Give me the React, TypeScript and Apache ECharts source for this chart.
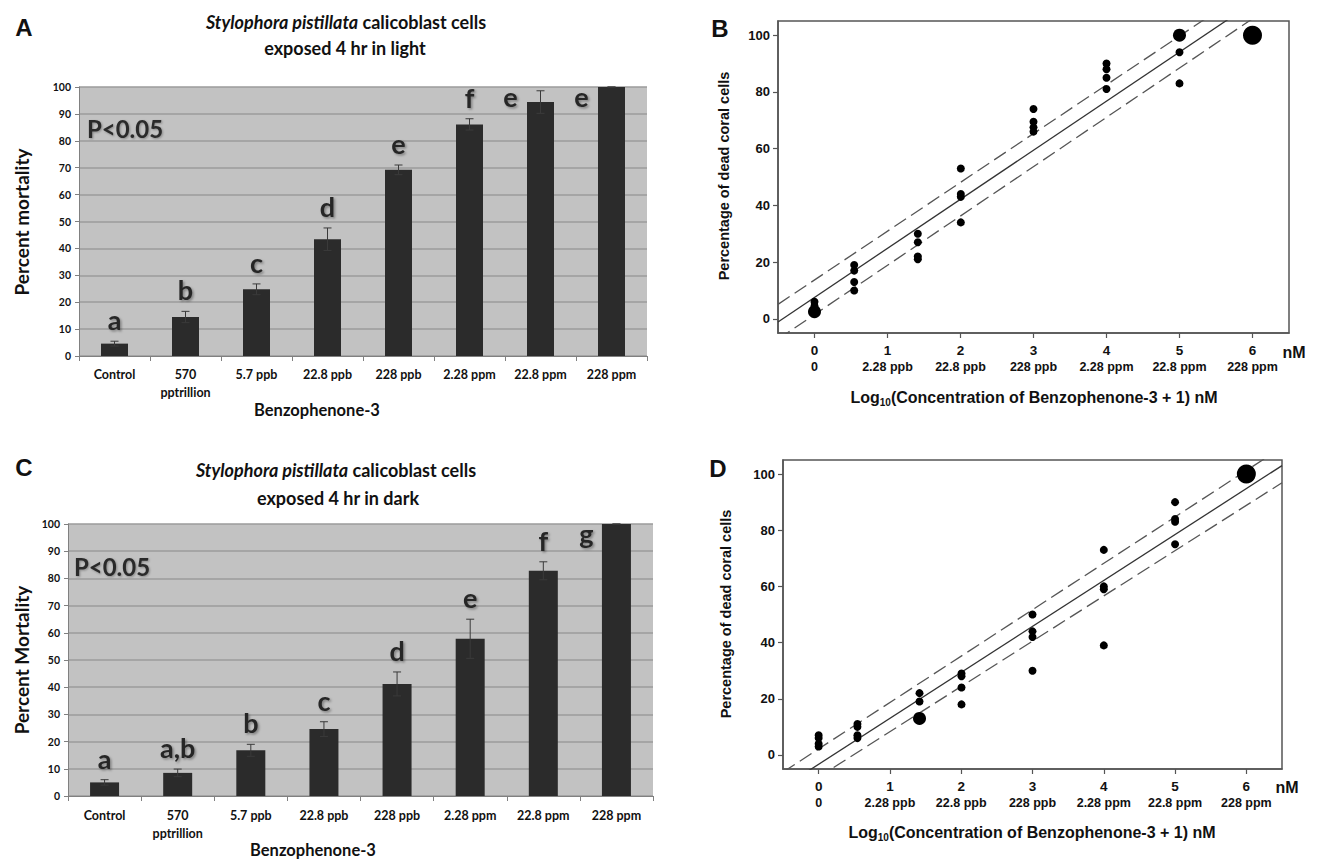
import React, { useEffect, useRef } from 'react';
import * as echarts from 'echarts';

// ---------------- Data ----------------
const doseCategories = ['Control', '570\npptrillion', '5.7 ppb', '22.8 ppb', '228 ppb', '2.28 ppm', '22.8 ppm', '228 ppm'];

const lightMortality = [4.6, 14.5, 24.8, 43.4, 69.2, 86.1, 94.4, 100];
const lightError = [0.9, 2.1, 2.0, 4.2, 1.8, 2.1, 4.2, 0];
const lightLetters = ['a', 'b', 'c', 'd', 'e', 'f', 'e', 'e'];

const darkMortality = [5.0, 8.5, 16.8, 24.6, 41.2, 57.8, 82.8, 100];
const darkError = [1.0, 1.4, 2.2, 2.7, 4.4, 7.2, 3.3, 0];
const darkLetters = ['a', 'a,b', 'b', 'c', 'd', 'e', 'f', 'g'];

const logTicks = [0, 1, 2, 3, 4, 5, 6];
const concTickLabels = ['0', '2.28 ppb', '22.8 ppb', '228 ppb', '2.28 ppm', '22.8 ppm', '228 ppm'];
const deadTicks = [0, 20, 40, 60, 80, 100];

// [log10(concentration + 1) nM, % dead coral cells, replicates overlapping at the point]
const lightPoints = [
  [0, 6, 1], [0, 4.5, 1], [0, 2.5, 2],
  [0.544, 19, 1], [0.544, 17, 1], [0.544, 13, 1], [0.544, 10, 1],
  [1.415, 30, 1], [1.415, 27, 1], [1.415, 22, 1], [1.415, 21, 1],
  [2.004, 53, 1], [2.004, 44, 1], [2.004, 43, 1], [2.004, 34, 1],
  [3, 74, 1], [3, 69.5, 1], [3, 67.5, 1], [3, 66, 1],
  [4, 90, 1], [4, 88, 1], [4, 85, 1], [4, 81, 1],
  [5, 100, 2], [5, 94, 1], [5, 83, 1],
  [6, 100, 4],
];
const lightFit = [[-0.5, -1.1], [6.5, 120]];
const lightUpper = [[-0.5, 5.1], [6.5, 125.5]];
const lightLower = [[-0.5, -7.2], [6.5, 114.5]];

const darkPoints = [
  [0, 7, 1], [0, 6, 1], [0, 4, 1], [0, 3, 1],
  [0.544, 11, 1], [0.544, 10, 1], [0.544, 7, 1], [0.544, 6, 1],
  [1.415, 22, 1], [1.415, 19, 1], [1.415, 13, 2],
  [2.004, 29, 1], [2.004, 28, 1], [2.004, 24, 1], [2.004, 18, 1],
  [3, 50, 1], [3, 44, 1], [3, 42, 1], [3, 30, 1],
  [4, 73, 1], [4, 60, 1], [4, 59, 1], [4, 39, 1],
  [5, 90, 1], [5, 84, 1], [5, 83, 1], [5, 75, 1],
  [6, 100, 4],
];
const darkFit = [[-0.5, -11.5], [6.5, 103]];
const darkUpper = [[-0.5, -6.1], [6.5, 109.5]];
const darkLower = [[-0.5, -15.9], [6.5, 96.9]];

// ---------------- Styling ----------------
const CAL = 'Lato, "Open Sans", sans-serif';
const ARI = '"Liberation Sans", Arial, Helvetica, sans-serif';

function barAxes(gridIndex: number, margin: number) {
  const x = {
    type: 'category',
    gridIndex,
    data: doseCategories,
    axisLine: { show: true, lineStyle: { color: '#808080', width: 1 } },
    axisTick: { show: true, alignWithLabel: false, length: 5, lineStyle: { color: '#808080' } },
    axisLabel: { interval: 0, margin, color: '#111', fontFamily: CAL, fontWeight: 'bold', fontSize: 12.5, lineHeight: 18 },
    splitLine: { show: false },
  };
  const y = {
    type: 'value',
    gridIndex,
    min: 0,
    max: 100,
    interval: 10,
    axisLine: { show: true, lineStyle: { color: '#808080' } },
    axisTick: { show: true, length: 4, lineStyle: { color: '#808080' } },
    axisLabel: { color: '#111', fontFamily: CAL, fontWeight: 'bold', fontSize: 10.5, margin: 8 },
    splitLine: { show: true, lineStyle: { color: '#9b9b9b', width: 1.5 } },
  };
  return { x, y };
}

function scatterAxes(gridIndex: number) {
  const x = {
    type: 'value',
    gridIndex,
    min: -0.5,
    max: 6.5,
    axisLine: { show: true, onZero: false, lineStyle: { color: '#555', width: 1.5 } },
    axisTick: { show: true, length: 5, customValues: logTicks, lineStyle: { color: '#555', width: 1.2 } },
    axisLabel: {
      customValues: logTicks,
      margin: 9,
      formatter: (v: number) => `{t|${v}}\n{s|${concTickLabels[logTicks.indexOf(Math.round(v))]}}`,
      rich: {
        t: { fontFamily: ARI, fontWeight: 'bold', fontSize: 13.5, color: '#111', lineHeight: 16 },
        s: { fontFamily: ARI, fontWeight: 'bold', fontSize: 12.5, color: '#111', lineHeight: 18 },
      },
    },
    splitLine: { show: false },
  };
  const y = {
    type: 'value',
    gridIndex,
    min: -5,
    max: 105,
    axisLine: { show: true, onZero: false, lineStyle: { color: '#555', width: 1.5 } },
    axisTick: { show: true, length: 5, customValues: deadTicks, lineStyle: { color: '#555', width: 1.2 } },
    axisLabel: { customValues: deadTicks, color: '#111', fontFamily: ARI, fontWeight: 'bold', fontSize: 13, margin: 8 },
    splitLine: { show: false },
  };
  return { x, y };
}

function barSeries(axisIndex: number, values: number[], errors: number[], letters: string[], barWidth: number) {
  return [
    {
      type: 'bar',
      xAxisIndex: axisIndex,
      yAxisIndex: axisIndex,
      data: values,
      barWidth,
      itemStyle: { color: '#2b2b2b' },
      z: 2,
    },
    {
      type: 'custom',
      xAxisIndex: axisIndex,
      yAxisIndex: axisIndex,
      data: values.map((v, i) => [i, v, errors[i]]),
      z: 3,
      renderItem: (params: any, api: any) => {
        const i = api.value(0);
        const v = api.value(1);
        const e = api.value(2);
        const top = api.coord([i, v + e]);
        const bot = api.coord([i, v - e]);
        const cx = top[0];
        const w = 4;
        const st = { stroke: '#3a3a3a', lineWidth: 1 };
        return {
          type: 'group',
          children: [
            { type: 'line', shape: { x1: cx, y1: top[1], x2: cx, y2: bot[1] }, style: st },
            { type: 'line', shape: { x1: cx - w, y1: top[1], x2: cx + w, y2: top[1] }, style: st },
            { type: 'line', shape: { x1: cx - w, y1: bot[1], x2: cx + w, y2: bot[1] }, style: st },
          ],
        };
      },
    },
    {
      type: 'custom',
      xAxisIndex: axisIndex,
      yAxisIndex: axisIndex,
      data: values.map((v, i) => [i, v + errors[i]]),
      z: 4,
      renderItem: (params: any, api: any) => {
        const i = api.value(0);
        const top = api.value(1);
        const letter = letters[params.dataIndex];
        let [cx, cy] = api.coord([i, top]);
        let y = cy - 8;
        if (top > 92) {
          cx -= 30;
          y = api.coord([i, 92])[1] + 1;
        }
        return {
          type: 'text',
          style: {
            text: letter,
            x: cx,
            y,
            textAlign: 'center',
            align: 'center',
            textVerticalAlign: 'bottom',
            verticalAlign: 'bottom',
            font: `bold 27px ${CAL}`,
            fill: '#262626',
            textShadowColor: 'rgba(0,0,0,0.35)',
            textShadowBlur: 2,
            textShadowOffsetX: 1.5,
            textShadowOffsetY: 1.5,
          },
        };
      },
    },
  ];
}

function scatterSeries(axisIndex: number, points: number[][], fit: number[][], upper: number[][], lower: number[][]) {
  const line = (data: number[][], dashed: boolean) => ({
    type: 'line',
    xAxisIndex: axisIndex,
    yAxisIndex: axisIndex,
    data,
    showSymbol: false,
    symbol: 'none',
    clip: true,
    lineStyle: { color: dashed ? '#555' : '#333', width: 1.3, type: dashed ? [14, 6] : 'solid' },
    z: 2,
  });
  return [
    line(fit, false),
    line(upper, true),
    line(lower, true),
    {
      type: 'scatter',
      xAxisIndex: axisIndex,
      yAxisIndex: axisIndex,
      data: points,
      symbol: 'circle',
      symbolSize: (val: number[]) => (val[2] >= 4 ? 19 : val[2] >= 2 ? 13 : 8),
      itemStyle: { color: '#000', opacity: 1 },
      z: 3,
    },
  ];
}

function txt(x: number, y: number, text: string, font: string, extra: any = {}) {
  return {
    type: 'text',
    x,
    y,
    ...extra,
    style: {
      text,
      font,
      fill: '#111',
      textAlign: 'center',
      align: 'center',
      textVerticalAlign: 'middle',
      verticalAlign: 'middle',
      ...(extra.style || {}),
    },
  };
}

function titleText(x: number, y: number) {
  return {
    type: 'text',
    x,
    y,
    style: {
      text: '{i|Stylophora pistillata}{n| calicoblast cells}',
      textAlign: 'center',
      align: 'center',
      textVerticalAlign: 'middle',
      verticalAlign: 'middle',
      rich: {
        i: { fontFamily: CAL, fontWeight: 'bold', fontStyle: 'italic', fontSize: 18, fill: '#111', color: '#111' },
        n: { fontFamily: CAL, fontWeight: 'bold', fontSize: 18, fill: '#111', color: '#111' },
      },
    },
  };
}

function logName(x: number, y: number) {
  return {
    type: 'text',
    x,
    y,
    style: {
      text: '{m|Log}{sub|10}{m|(Concentration of Benzophenone-3 + 1) nM}',
      textAlign: 'center',
      align: 'center',
      textVerticalAlign: 'middle',
      verticalAlign: 'middle',
      rich: {
        m: { fontFamily: ARI, fontWeight: 'bold', fontSize: 16, lineHeight: 20, fill: '#111', color: '#111' },
        sub: { fontFamily: ARI, fontWeight: 'bold', fontSize: 10, lineHeight: 10, verticalAlign: 'bottom', fill: '#111', color: '#111' },
      },
    },
  };
}

const pShadow = {
  style: {
    fill: '#2a2a2a',
    textShadowColor: 'rgba(0,0,0,0.3)',
    textShadowBlur: 2,
    textShadowOffsetX: 1,
    textShadowOffsetY: 1,
  },
};

export default function App() {
  const ref = useRef<HTMLDivElement>(null);

  useEffect(() => {
    if (!ref.current) return;
    const chart = echarts.init(ref.current, undefined, { renderer: 'svg' });

    const aAxes = barAxes(0, 9);
    const bAxes = scatterAxes(1);
    const cAxes = barAxes(2, 10);
    const dAxes = scatterAxes(3);

    const option: any = {
      animation: false,
      backgroundColor: '#fff',
      grid: [
        { left: 79, top: 87, width: 568, height: 269, show: true, backgroundColor: '#c2c2c2', borderWidth: 0, containLabel: false },
        { left: 778, top: 21, width: 511, height: 312, show: true, backgroundColor: '#fff', borderColor: '#555', borderWidth: 1.5, containLabel: false },
        { left: 68, top: 524, width: 585, height: 272, show: true, backgroundColor: '#c2c2c2', borderWidth: 0, containLabel: false },
        { left: 783, top: 460, width: 499, height: 309, show: true, backgroundColor: '#fff', borderColor: '#555', borderWidth: 1.5, containLabel: false },
      ],
      xAxis: [aAxes.x, bAxes.x, cAxes.x, dAxes.x],
      yAxis: [aAxes.y, bAxes.y, cAxes.y, dAxes.y],
      series: [
        ...barSeries(0, lightMortality, lightError, lightLetters, 27),
        ...scatterSeries(1, lightPoints, lightFit, lightUpper, lightLower),
        ...barSeries(2, darkMortality, darkError, darkLetters, 29),
        ...scatterSeries(3, darkPoints, darkFit, darkUpper, darkLower),
      ],
      graphic: [
        // panel letters
        txt(24, 27, 'A', `bold 24px ${ARI}`),
        txt(720, 28, 'B', `bold 24px ${ARI}`),
        txt(24, 467, 'C', `bold 24px ${ARI}`),
        txt(718, 468, 'D', `bold 24px ${ARI}`),
        // panel A texts
        titleText(346, 22),
        txt(345, 48, 'exposed 4 hr in light', `bold 18px ${CAL}`),
        txt(125, 128, 'P<0.05', `bold 24px ${CAL}`, pShadow),
        txt(21, 222, 'Percent mortality', `bold 19px ${CAL}`, { rotation: Math.PI / 2 }),
        txt(317, 410, 'Benzophenone-3', `bold 16.5px ${CAL}`),
        // panel C texts
        titleText(336, 470),
        txt(338, 498, 'exposed 4 hr in dark', `bold 18px ${CAL}`),
        txt(112, 566, 'P<0.05', `bold 24px ${CAL}`, pShadow),
        txt(21, 660, 'Percent Mortality', `bold 19px ${CAL}`, { rotation: Math.PI / 2 }),
        txt(313, 850, 'Benzophenone-3', `bold 16.5px ${CAL}`),
        // panel B names
        txt(724, 176, 'Percentage of dead coral cells', `bold 14.5px ${ARI}`, { rotation: Math.PI / 2 }),
        logName(1034, 397),
        txt(1294, 352, 'nM', `bold 16px ${ARI}`),
        // panel D names
        txt(726, 614, 'Percentage of dead coral cells', `bold 14.5px ${ARI}`, { rotation: Math.PI / 2 }),
        logName(1032, 832),
        txt(1287, 787, 'nM', `bold 16px ${ARI}`),
      ],
    };

    chart.setOption(option);
    return () => {
      chart.dispose();
    };
  }, []);

  return (
    <div
      ref={ref}
      style={{ position: 'fixed', left: 0, top: 0, width: 1317, height: 861, background: '#fff' }}
    />
  );
}
